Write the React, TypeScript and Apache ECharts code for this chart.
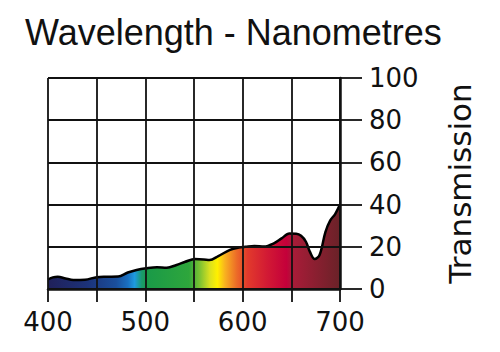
import React, { useEffect, useRef } from "react";
import * as echarts from "echarts";

const wavelengths = [400, 405, 410, 418, 426, 438, 450, 460, 472, 482, 491, 501, 512, 522, 532, 541, 551, 560, 566, 575, 587, 596, 603, 612, 622, 632, 640, 648, 655, 660, 665, 669, 674, 679, 685, 690, 695, 700];
const transmission = [4.5, 5.5, 5.8, 5.0, 4.3, 4.4, 5.6, 5.8, 5.9, 7.8, 9.0, 9.8, 10.3, 10.1, 11.4, 12.9, 14.2, 14.0, 13.7, 15.6, 18.5, 19.6, 20.0, 20.4, 20.1, 21.6, 24.0, 26.3, 26.2, 25.2, 22.4, 17.7, 14.2, 16.1, 27.0, 32.5, 35.5, 40.0];
const xTicks = [400, 500, 600, 700];
const yTicks = [0, 20, 40, 60, 80, 100];
const spectrumStops: [number, string][] = [
  [400, "#20205a"], [440, "#1c3278"], [470, "#1a4f9c"], [482, "#1a70c0"], [489, "#1e9ae0"],
  [496, "#1a9a70"], [502, "#1a9a48"], [545, "#2ea63c"], [556, "#7cc232"], [566, "#d8e020"],
  [574, "#fff000"], [582, "#f8b020"], [594, "#ec6a28"], [605, "#e23a2c"], [625, "#d21a34"],
  [645, "#c4003a"], [652, "#a81c38"], [700, "#6a2228"],
];

export default function App() {
  const ref = useRef<HTMLDivElement>(null);
  useEffect(() => {
    const chart = echarts.init(ref.current!, undefined, { renderer: "svg" });
    const lineColor = "#111";
    chart.setOption({
      animation: false,
      title: {
        text: "Wavelength - Nanometres",
        left: 20,
        top: 9,
        textStyle: { fontFamily: "Liberation Sans", fontSize: 36, fontWeight: "normal", color: "#111" },
      },
      grid: { left: 48, right: 160, top: 78, bottom: 63 },
      xAxis: {
        type: "value",
        min: 400,
        max: 700,
        interval: 50,
        z: 5,
        axisLine: { show: true, lineStyle: { color: lineColor, width: 2.5 } },
        axisTick: { show: true, length: 13, lineStyle: { color: lineColor, width: 1.8 } },
        splitLine: { show: true, lineStyle: { color: lineColor, width: 1.8 } },
        axisLabel: {
          margin: 20,
          fontFamily: "DejaVu Sans",
          fontSize: 26,
          color: "#111",
          formatter: (v: number) => (xTicks.includes(v) ? String(v) : ""),
        },
      },
      yAxis: {
        type: "value",
        position: "right",
        min: 0,
        max: 100,
        interval: 20,
        z: 5,
        name: "Transmission",
        nameLocation: "middle",
        nameRotate: 90,
        nameGap: 104,
        nameTextStyle: { fontFamily: "DejaVu Sans", fontSize: 31, color: "#111" },
        axisLine: { show: true, lineStyle: { color: lineColor, width: 2.5 } },
        axisTick: { show: true, length: 22, lineStyle: { color: lineColor, width: 1.8 } },
        splitLine: { show: true, lineStyle: { color: lineColor, width: 1.8 } },
        axisLabel: {
          margin: 29,
          align: "left",
          fontFamily: "DejaVu Sans",
          fontSize: 26,
          color: "#111",
          formatter: (v: number) => (yTicks.includes(v) ? String(v) : ""),
        },
      },
      series: [
        {
          type: "line",
          z: 1,
          smooth: 0.35,
          showSymbol: false,
          symbol: "none",
          data: wavelengths.map((w, i) => [w, transmission[i]]),
          lineStyle: { color: "#000", width: 2.5 },
          areaStyle: {
            opacity: 1,
            color: new echarts.graphic.LinearGradient(
              0, 0, 1, 0,
              spectrumStops.map(([w, c]) => ({ offset: (w - 400) / 300, color: c }))
            ),
          },
        },
      ],
    });
    return () => chart.dispose();
  }, []);
  return <div ref={ref} style={{ width: 500, height: 352, position: "absolute", left: 0, top: 0 }} />;
}
